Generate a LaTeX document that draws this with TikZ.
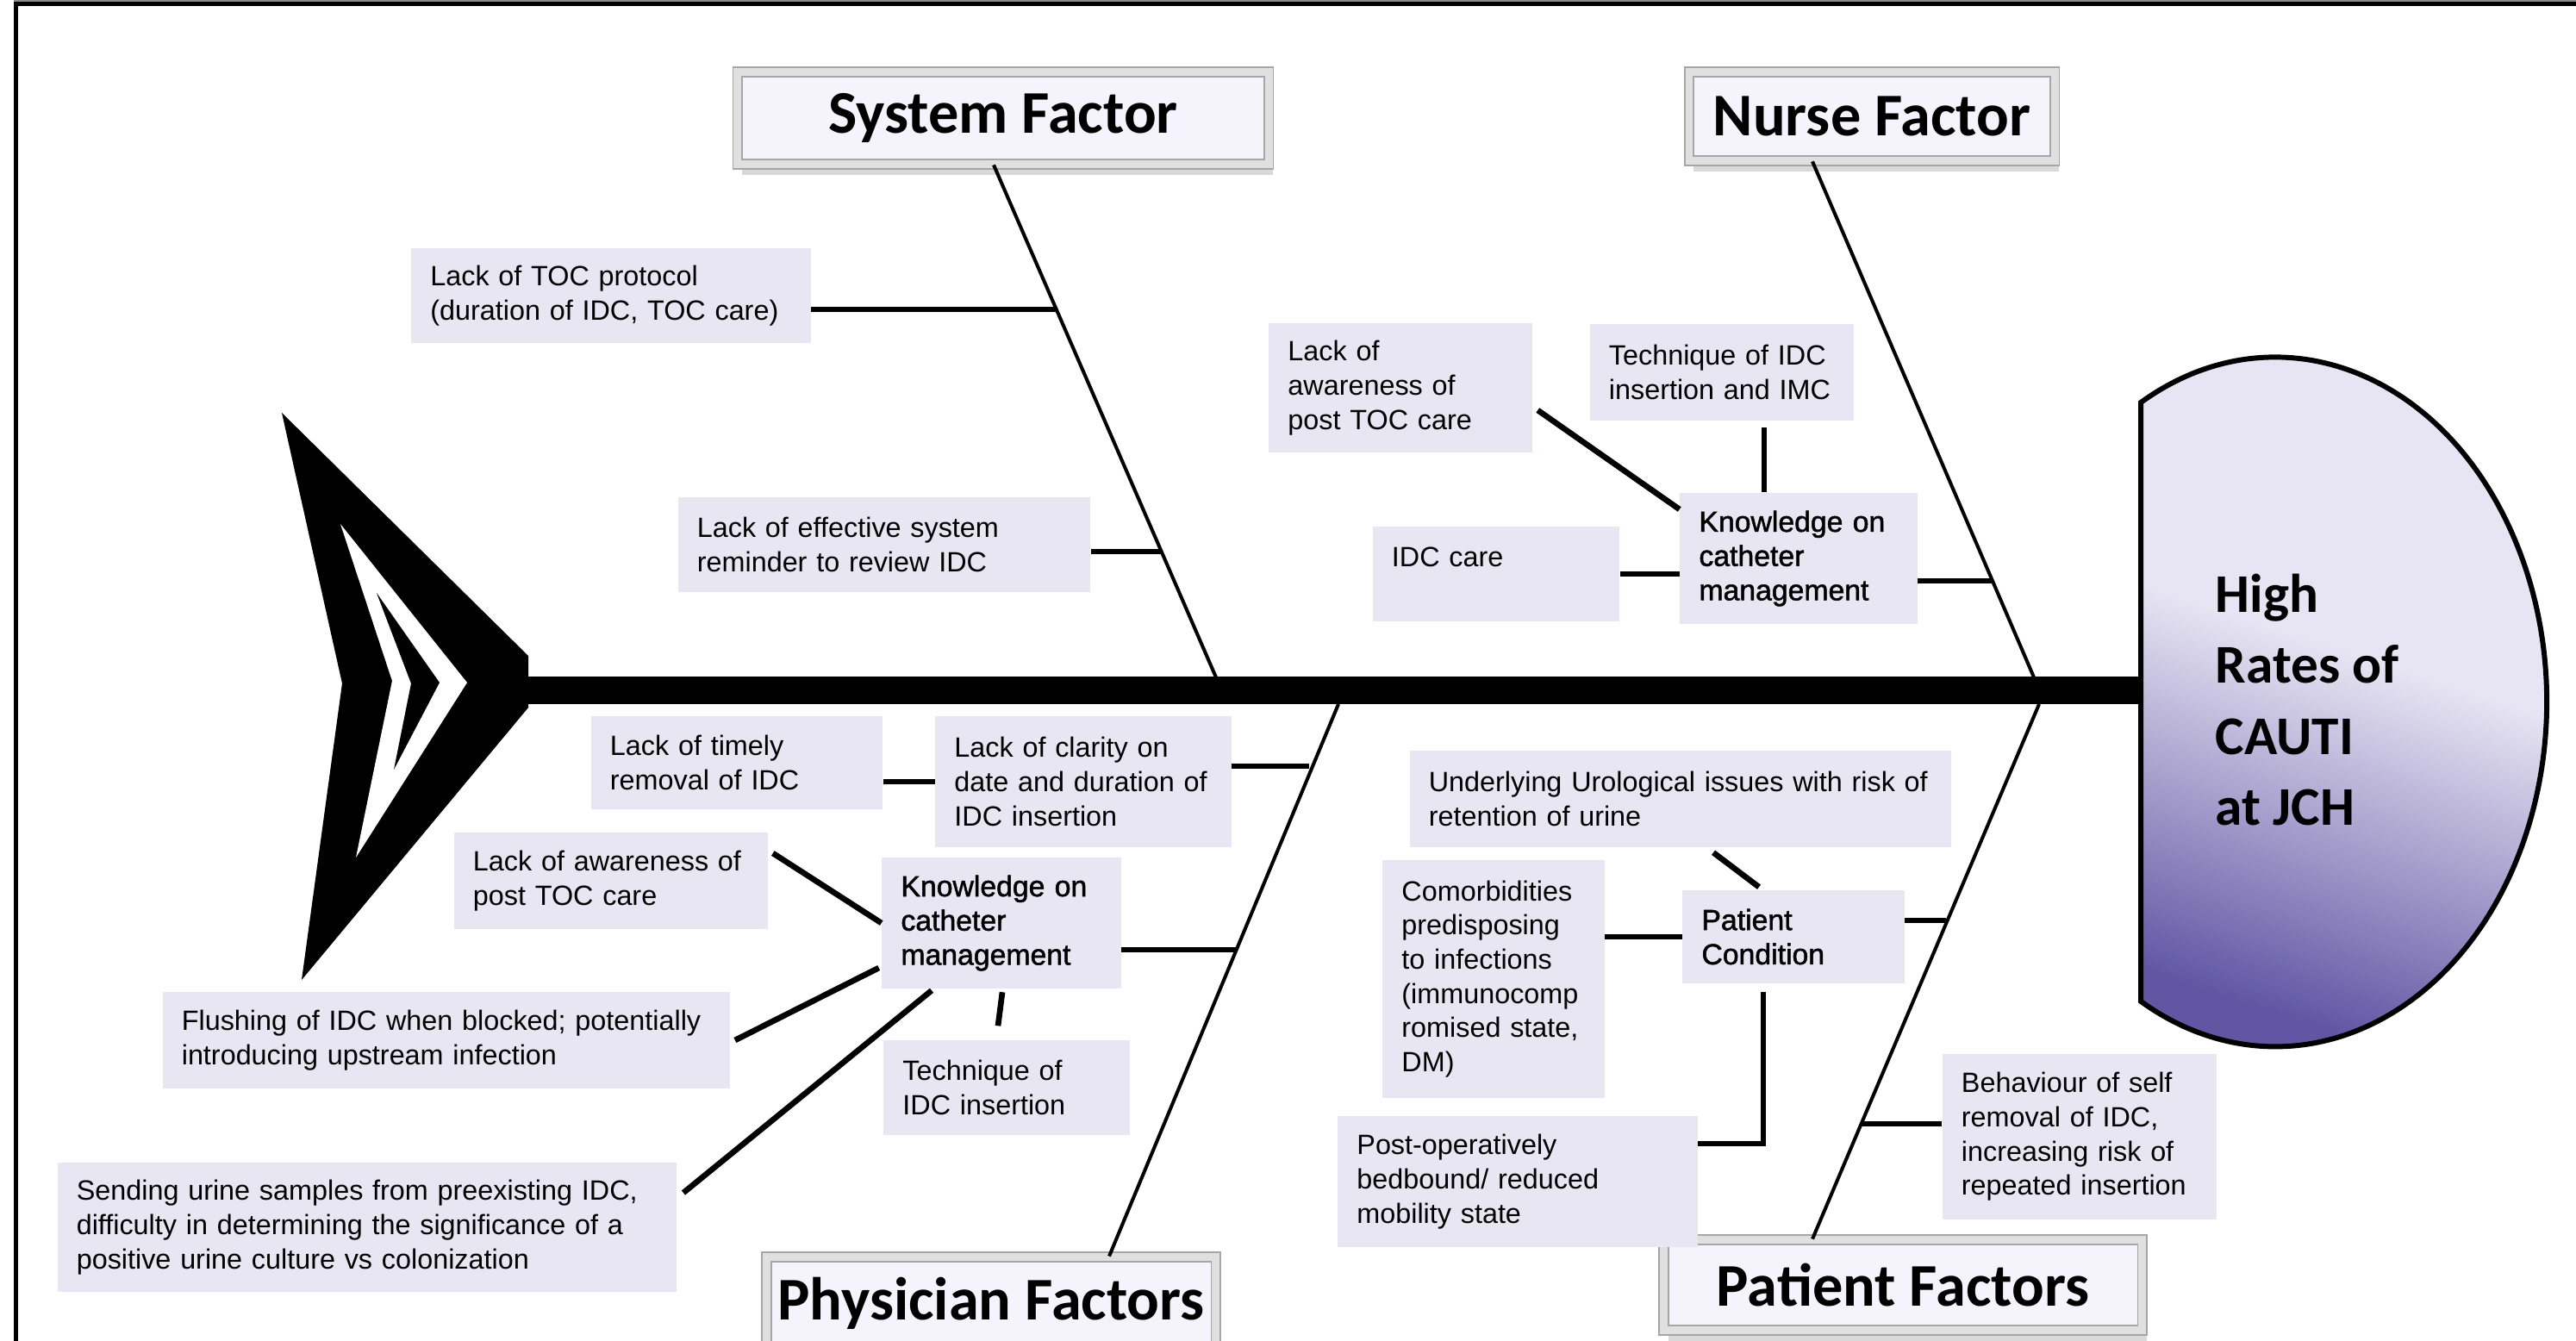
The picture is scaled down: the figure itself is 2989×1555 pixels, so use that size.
\documentclass[tikz,border=0pt]{standalone}
\usepackage{fontspec}
\setmainfont{Liberation Sans}
\newfontfamily\calibri{Carlito}
\newfontfamily\heavysans[FakeBold=1.5]{Liberation Sans}
\usetikzlibrary{calc,shadows}

\definecolor{causefill}{RGB}{231,230,242}
\definecolor{titlefill}{RGB}{245,244,253}
\definecolor{headlight}{RGB}{231,229,243}
\definecolor{headdark}{RGB}{98,86,164}
\pgfdeclareverticalshading{headshade}{100bp}{color(0bp)=(headdark); color(25bp)=(headdark);
  color(37bp)=(headdark!55!headlight); color(52bp)=(headlight); color(100bp)=(headlight)}

\tikzset{
  cause/.style={fill=causefill, inner xsep=0.22cm, inner ysep=0pt, align=left,
    font=\fontsize{9.2}{11.3}\selectfont},
  keycause/.style={cause, font=\heavysans\fontsize{9.6}{11.3}\selectfont},
  factor/.style={fill=titlefill, draw=black!35, double=black!12, double distance=2.5pt,
    line width=0.5pt, drop shadow={shadow xshift=1.5pt, shadow yshift=-3.5pt, opacity=0.3},
    font=\calibri\bfseries\fontsize{20}{24}\selectfont},
  bone/.style={line width=1.15pt},
  twig/.style={line width=1.9pt},
}

\begin{document}
\begin{tikzpicture}[x=0.01cm,y=0.01cm,yscale=-1]
\useasboundingbox (0,0) rectangle (2989,1555);

%frame
\draw [black!45, line width=0.8pt] (16,1.5) -- (2989,1.5);
\draw [line width=1.2pt] (18.5,1560) -- (18.5,4.5) -- (2989,4.5);

%Shape: tail
\fill (327,479) -- (613,761) -- (613,821) -- (350,1137) -- (397,793) -- cycle;
\fill [white] (395,608) -- (542,792) -- (413,995) -- (455,790) -- cycle;
\fill (437,688) -- (510,792) -- (457,893) -- (477,793) -- cycle;

%Shape: head
\shadedraw [shading=headshade, shading angle=-18, draw=black, line width=1.7pt]
  (2484,467) arc [start angle=-119.7, end angle=119.7, x radius=315, y radius=400] -- cycle;

%spine
\coordinate (tailend) at (605,801);
\coordinate (headleft) at (2484,801);
\draw [line width=0.31cm] (tailend) -- (headleft);

% Text Node
\node [anchor=west, align=left, inner sep=0pt, font=\calibri\bfseries\fontsize{18}{23.5}\selectfont] (effect) at (2570,812) {High\\Rates of\\CAUTI\\at JCH};

% Factor boxes
\node [factor, minimum width=6.16cm, minimum height=1.07cm] (system) at (1164,137) {System Factor};
\node [factor, minimum width=4.24cm, minimum height=1.03cm] (nurse) at (2172,135) {Nurse Factor};
\node [factor, minimum width=5.21cm, minimum height=1.07cm] (phys) at (1150,1512) {Physician Factors};
\node [factor, minimum width=5.55cm, minimum height=1.05cm] (patient) at (2208,1491) {Patient Factors};

% joints on the spine
\coordinate (sysj) at (1411,786);
\coordinate (nurj) at (2360,786);
\coordinate (phyj) at (1553,817);
\coordinate (patj) at (2366,817);

%Straight Lines: bones
\draw [bone] ($(system.south)+(-11,0)$) -- (sysj);
\draw [bone] ($(nurse.south)+(-69,0)$) -- (nurj);
\draw [bone] (phyj) -- ($(phys.north)+(137,0)$);
\draw [bone] (patj) -- ($(patient.north)+(-105,0)$);

% System Factor causes
\node [cause, text width=4.19cm, minimum height=1.10cm] (toc) at (709,343) {Lack of TOC protocol\\(duration of IDC, TOC care)};
\node [cause, text width=4.34cm, minimum height=1.09cm] (remind) at (1026,632) {Lack of effective system\\reminder to review IDC};
\coordinate (tocj) at (1226,359);
\coordinate (remj) at (1348,640);
\draw [twig] (toc.east |- tocj) -- (tocj);
\draw [twig] (remind.east |- remj) -- (remj);

% Nurse Factor causes
\node [cause, text width=2.61cm, minimum height=1.50cm] (nawar) at (1625,450) {Lack of\\awareness of\\post TOC care};
\node [cause, text width=2.62cm, minimum height=1.12cm] (ntech) at (1998,432) {Technique of IDC\\insertion and IMC};
\node [cause, text width=2.42cm, minimum height=1.09cm] (idccare) at (1736,666) {IDC care\\\mbox{}};
\node [keycause, text width=2.31cm, minimum height=1.52cm] (nknow) at (2087,648) {Knowledge on\\catheter\\management};
\coordinate (nknj) at (2311,674);
\coordinate (ntechfoot) at ($(ntech.south)+(49,7)$);
\draw [twig] (nknow.east |- nknj) -- (nknj);
\draw [twig] (idccare.east) -- (idccare.east -| nknow.west);
\draw [twig] (ntechfoot) -- (ntechfoot |- nknow.north);
\draw [twig] ($(nawar.east)+(6,26)$) -- ($(nknow.west)+(0,-57)$);

% Physician Factors causes
\node [cause, text width=2.94cm, minimum height=1.08cm] (timely) at (855,885) {Lack of timely\\removal of IDC};
\node [cause, text width=2.99cm, minimum height=1.52cm] (clarity) at (1257,907) {Lack of clarity on\\date and duration of\\IDC insertion};
\node [cause, text width=3.20cm, minimum height=1.11cm] (pawar) at (709,1022) {Lack of awareness of\\post TOC care};
\node [keycause, text width=2.33cm, minimum height=1.51cm] (pknow) at (1162,1071) {Knowledge on\\catheter\\management};
\node [cause, text width=6.14cm, minimum height=1.12cm] (flush) at (518,1207) {Flushing of IDC when blocked; potentially\\introducing upstream infection};
\node [cause, text width=2.41cm, minimum height=1.10cm] (ptech) at (1168,1262) {Technique of\\IDC insertion};
\node [cause, text width=6.74cm, minimum height=1.50cm] (urine) at (426,1424) {Sending urine samples from preexisting IDC,\\difficulty in determining the significance of a\\positive urine culture vs colonization};
\coordinate (clj) at (1519,889);
\coordinate (pkj) at (1435,1102);
\draw [twig] (clarity.west) -- (clarity.west -| timely.east);
\draw [twig] (clarity.east |- clj) -- (clj);
\draw [twig] (pknow.east |- pkj) -- (pkj);
\draw [twig] ($(pawar.east)+(5,-32)$) -- (pknow.west);
\draw [twig] ($(flush.east)+(5,0)$) -- ($(pknow.west)+(-3,52)$);
\draw [twig] ($(pknow.south)+(1,4)$) -- ($(ptech.north)+(-10,-16)$);
\draw [twig] ($(urine.east)+(7,-40)$) -- ($(pknow.south)+(-81,2)$);

% Patient Factors causes
\node [cause, text width=5.84cm, minimum height=1.11cm] (uro) at (1950,927) {Underlying Urological issues with risk of\\retention of urine};
\node [cause, text width=2.13cm, minimum height=2.75cm] (comorb) at (1733,1136) {Comorbidities\\predisposing\\to infections\\(immunocomp\\romised state,\\DM)};
\node [keycause, text width=2.13cm, minimum height=1.08cm] (pcond) at (2081,1087) {Patient\\Condition};
\node [cause, text width=3.73cm, minimum height=1.51cm] (postop) at (1761,1371) {Post-operatively\\bedbound/ reduced\\mobility state};
\node [cause, text width=2.74cm, minimum height=1.91cm] (behav) at (2413,1319) {Behaviour of self\\removal of IDC,\\increasing risk of\\repeated insertion};
\coordinate (pcj) at (2258,1068);
\coordinate (bhj) at (2160,1304);
\draw [twig] ($(uro.south)+(38,6)$) -- ($(pcond.north)+(-40,-3)$);
\draw [twig] (pcond.west) -- (pcond.west -| comorb.east);
\draw [twig] (pcond.east |- pcj) -- (pcj);
\draw [twig] ($(pcond.south)+(-35,9)$) |- ($(postop.east)+(0,-44)$);
\draw [twig] (behav.west |- bhj) -- (bhj);

\end{tikzpicture}
\end{document}
